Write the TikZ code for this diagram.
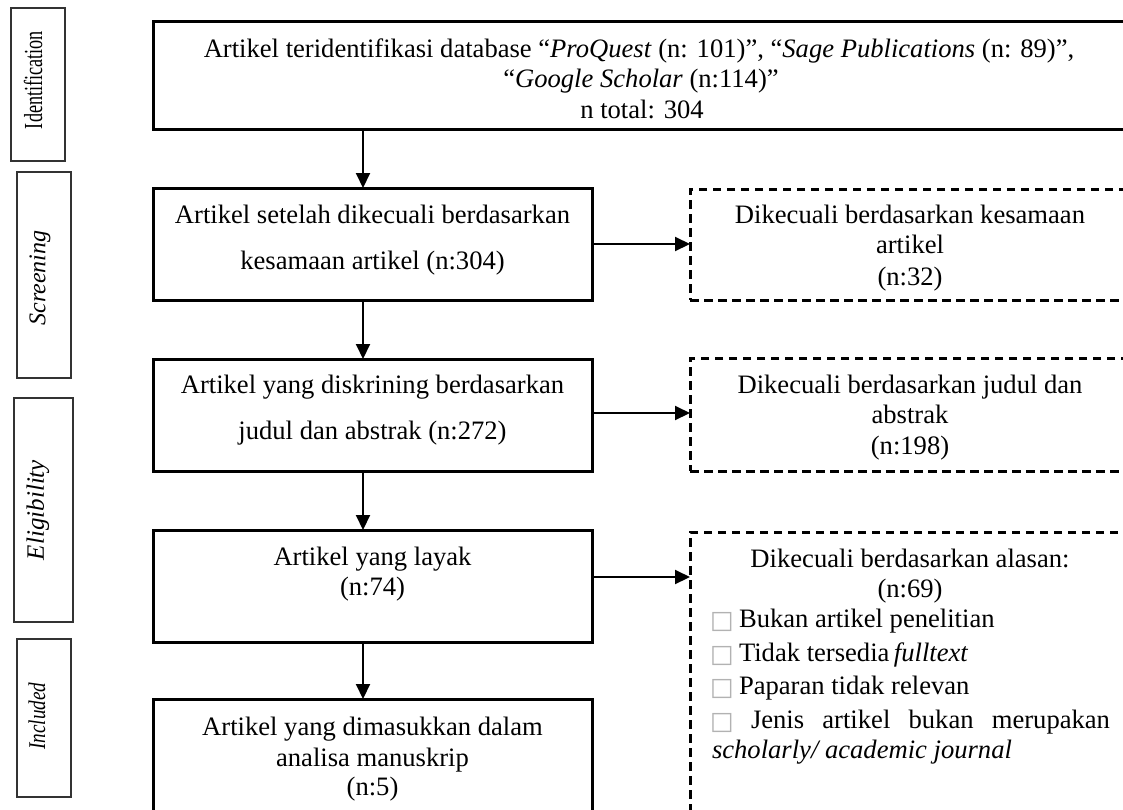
\documentclass[tikz,border=0pt]{standalone}
\usepackage{fontspec}
\setmainfont{Liberation Serif}
\newfontfamily\symfont{DejaVu Sans}
\usetikzlibrary{arrows.meta}
\newcommand\mainsz{\fontsize{26.6}{31}\selectfont}
\tikzset{
  mainbox/.style={draw, line width=3pt, outer sep=0pt, inner sep=0pt},
  exclbox/.style={draw, line width=3pt, dash pattern=on 8.5pt off 5.5pt, outer sep=0pt, inner sep=0pt},
  stagebox/.style={draw=black!80, line width=1.5pt, outer sep=0pt, inner sep=0pt},
  txt/.style={inner sep=0pt, outer sep=0pt, anchor=base, font=\mainsz},
  ltxt/.style={txt, anchor=base west},
  sym/.style={inner sep=0pt, outer sep=0pt, anchor=base west, text=black!30, font=\symfont\fontsize{25}{25}\selectfont},
  arr/.style={line width=2pt, -{Triangle[length=15pt,width=14pt]}},
  stagelabel/.style={rotate=90, inner sep=0pt, outer sep=0pt}
}
\begin{document}
\begin{tikzpicture}[x=1pt,y=-1pt]
\useasboundingbox (0,0) rectangle (1123,809);
\clip (0,0) rectangle (1123,809);

% stage boxes
\node[stagebox, minimum width=54pt, minimum height=153pt] (sid) at (38,84.5) {};
\node[stagebox, minimum width=54pt, minimum height=206pt] (sscr) at (44,275) {};
\node[stagebox, minimum width=59pt, minimum height=224pt] (seli) at (43.5,510) {};
\node[stagebox, minimum width=54pt, minimum height=158pt] (sinc) at (44,718) {};
\node[stagelabel] (lid) at (33,80) {\fontsize{26}{26}\selectfont\scalebox{0.7}[1]{Identification}};
\node[stagelabel] (lscr) at (40,278) {\fontsize{24}{24}\selectfont\itshape Screening};
\node[stagelabel] (leli) at (38,510) {\fontsize{25}{25}\selectfont\itshape Eligibility};
\node[stagelabel] (linc) at (37,716) {\fontsize{24}{24}\selectfont\itshape\scalebox{0.8}[1]{Included}};

% main boxes
\node[mainbox, minimum width=990pt, minimum height=107.5pt] (top) at (648,75.5) {};
\node[mainbox, minimum width=439pt, minimum height=112pt] (b2) at (372.5,244) {};
\node[mainbox, minimum width=439pt, minimum height=112pt] (b3) at (372.5,415) {};
\node[mainbox, minimum width=439pt, minimum height=112pt] (b4) at (372.5,586) {};
\node[mainbox, minimum width=439pt, minimum height=131pt] (b5) at (372.5,764.5) {};

% exclusion boxes
\node[exclbox, minimum width=450pt, minimum height=111pt] (d1) at (915,244.5) {};
\node[exclbox, minimum width=450pt, minimum height=113pt] (d2) at (915,414.5) {};
\node[exclbox, minimum width=450pt, minimum height=298pt] (d3) at (915,681) {};

% texts
\node[txt] (t1) at (639,57) {Artikel teridentifikasi database “\textit{ProQuest} (n: 101)”, “\textit{Sage Publications} (n: 89)”,};
\node[txt] (t2) at (641,87) {“\textit{Google Scholar} (n:114)”};
\node[txt] (t3) at (642,118) {n total: 304};

\node[txt] (b2a) at (372.5,223) {Artikel setelah dikecuali berdasarkan};
\node[txt] (b2b) at (372.5,269) {kesamaan artikel (n:304)};
\node[txt] (b3a) at (372.5,393) {Artikel yang diskrining berdasarkan};
\node[txt] (b3b) at (372.5,439) {judul dan abstrak (n:272)};
\node[txt] (b4a) at (372.5,565) {Artikel yang layak};
\node[txt] (b4b) at (372.5,595) {(n:74)};
\node[txt] (b5a) at (372.5,735) {Artikel yang dimasukkan dalam};
\node[txt] (b5b) at (372.5,766) {analisa manuskrip};
\node[txt] (b5c) at (372.5,795) {(n:5)};

\node[txt] (d1a) at (910,223) {Dikecuali berdasarkan kesamaan};
\node[txt] (d1b) at (910,253) {artikel};
\node[txt] (d1c) at (910,285) {(n:32)};
\node[txt] (d2a) at (910,393) {Dikecuali berdasarkan judul dan};
\node[txt] (d2b) at (910,423) {abstrak};
\node[txt] (d2c) at (910,454) {(n:198)};
\node[txt] (d3a) at (910,567) {Dikecuali berdasarkan alasan:};
\node[txt] (d3b) at (910,597) {(n:69)};
\node[sym] (s1) at (710,628) {□};
\node[ltxt] (d3c) at (739,627) {Bukan artikel penelitian};
\node[sym] (s2) at (710,662) {□};
\node[ltxt] (d3d) at (739,661) {Tidak tersedia\,\textit{fulltext}};
\node[sym] (s3) at (710,695) {□};
\node[ltxt] (d3e) at (739,694) {Paparan tidak relevan};
\node[sym] (s4) at (710,729) {□};
\node[ltxt] (d3f) at (751,728) {\makebox[359pt]{Jenis\hfill artikel\hfill bukan\hfill merupakan}};
\node[ltxt] (d3g) at (712,758) {\textit{scholarly/ academic journal}};

% connectors
\coordinate (ax) at (363,0);
\draw[arr] (top.south -| ax) -- (b2.north -| ax);
\draw[arr] (b2.south -| ax) -- (b3.north -| ax);
\draw[arr] (b3.south -| ax) -- (b4.north -| ax);
\draw[arr] (b4.south -| ax) -- (b5.north -| ax);
\draw[arr] (b2.east) -- (b2.east -| d1.west);
\draw[arr] ([yshift=2pt]b3.east) -- ([yshift=2pt]b3.east -| d2.west);
\draw[arr] ([yshift=9pt]b4.east) -- ([yshift=9pt]b4.east -| d3.west);
\end{tikzpicture}
\end{document}
